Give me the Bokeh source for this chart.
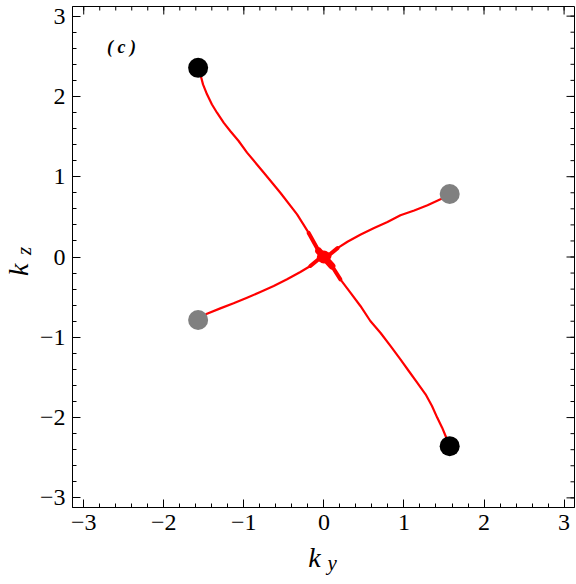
import math
from bokeh.plotting import figure
from bokeh.models import Range1d, FixedTicker, LinearAxis, Label
from bokeh.embed import file_html
from bokeh.resources import INLINE

# ---- data ----
# red curve, upper-left arm: black node -> origin
arm1_ky = [-1.571, -1.534, -1.51, -1.46, -1.398, -1.335, -1.25, -1.17, -1.065, -0.96,
           -0.75, -0.544, -0.335, -0.19, -0.065, 0.0]
arm1_kz = [2.356, 2.242, 2.15, 2.026, 1.90, 1.797, 1.67, 1.57, 1.445, 1.30,
           1.05, 0.80, 0.53, 0.30, 0.075, 0.0]
# red curve, lower-right arm: origin -> black node
arm2_ky = [0.0, 0.10, 0.206, 0.331, 0.456, 0.58, 0.706, 0.831, 0.956, 1.06, 1.165,
           1.27, 1.35, 1.415, 1.477, 1.52, 1.571]
arm2_kz = [0.0, -0.112, -0.278, -0.444, -0.61, -0.797, -0.943, -1.108, -1.275, -1.42,
           -1.566, -1.71, -1.856, -2.0, -2.126, -2.23, -2.356]
# red curve, lower-left arm: gray node -> origin
arm3_ky = [-1.571, -1.46, -1.294, -1.128, -0.96, -0.794, -0.627, -0.46, -0.294, -0.169,
           -0.044, 0.0]
arm3_kz = [-0.785, -0.706, -0.64, -0.577, -0.507, -0.436, -0.361, -0.278, -0.187, -0.112,
           -0.009, 0.0]
# red curve, upper-right arm: origin -> gray node
arm4_ky = [0.0, 0.05, 0.17, 0.294, 0.46, 0.627, 0.794, 0.956, 1.128, 1.294, 1.456, 1.571]
arm4_kz = [0.0, 0.012, 0.11, 0.19, 0.28, 0.36, 0.435, 0.52, 0.58, 0.645, 0.718, 0.785]

hub_ky = [0.0]
hub_kz = [0.0]

black_ky = [-1.571, 1.571]
black_kz = [2.356, -2.356]
gray_ky = [1.571, -1.571]
gray_kz = [0.785, -0.785]

major_ticks = [-3, -2, -1, 0, 1, 2, 3]
tick_labels = {-3: "\u22123", -2: "\u22122", -1: "\u22121", 0: "0", 1: "1", 2: "2", 3: "3"}
minor_ticks = [round(-3.0 + 0.2 * i, 1) for i in range(31)]

SERIF = "Liberation Serif"
X0, X1 = -3.14, 3.13
Y0, Y1 = -3.12, 3.12

p = figure(width=576, height=584, output_backend="svg", toolbar_location=None,
           x_range=Range1d(X0, X1), y_range=Range1d(Y0, Y1),
           x_axis_location=None, y_axis_location=None,
           min_border_left=72, min_border_right=2, min_border_top=6, min_border_bottom=77)
p.grid.visible = False
p.outline_line_color = "black"
p.outline_line_width = 1
p.background_fill_color = "white"
p.border_fill_color = "white"

ticker = FixedTicker(ticks=major_ticks, minor_ticks=minor_ticks)


def make_axis():
    ax = LinearAxis(ticker=ticker)
    ax.major_tick_in = 8
    ax.major_tick_out = 0
    ax.minor_tick_in = 4
    ax.minor_tick_out = 0
    ax.major_tick_line_color = "black"
    ax.minor_tick_line_color = "black"
    ax.axis_line_color = "black"
    ax.major_label_overrides = tick_labels
    ax.major_label_text_font = SERIF
    ax.major_label_text_font_size = "24px"
    ax.major_label_text_color = "black"
    ax.major_label_standoff = 7
    return ax


p.add_layout(make_axis(), "below")
p.add_layout(make_axis(), "left")

# inward ticks on the top and right frame edges
p.ray(x=major_ticks, y=[Y1] * len(major_ticks), length=8, length_units="screen",
      angle=-math.pi / 2, line_color="black", line_width=1)
p.ray(x=minor_ticks, y=[Y1] * len(minor_ticks), length=4, length_units="screen",
      angle=-math.pi / 2, line_color="black", line_width=1)
p.ray(x=[X1] * len(major_ticks), y=major_ticks, length=8, length_units="screen",
      angle=math.pi, line_color="black", line_width=1)
p.ray(x=[X1] * len(minor_ticks), y=minor_ticks, length=4, length_units="screen",
      angle=math.pi, line_color="black", line_width=1)

red = "#ff0000"
for xs, ys in [(arm1_ky, arm1_kz), (arm2_ky, arm2_kz), (arm3_ky, arm3_kz), (arm4_ky, arm4_kz)]:
    p.line(xs, ys, line_color=red, line_width=2.2, line_join="round", line_cap="round")

# thickened arms near the crossing point
for xs, ys in [(arm1_ky[-3:], arm1_kz[-3:]), (arm2_ky[:3], arm2_kz[:3]),
               (arm3_ky[-3:], arm3_kz[-3:]), (arm4_ky[:3], arm4_kz[:3])]:
    p.line(xs, ys, line_color=red, line_width=4, line_cap="round")
for xs, ys in [(arm1_ky[-2:], arm1_kz[-2:]), (arm2_ky[:2], arm2_kz[:2]),
               (arm3_ky[-2:], arm3_kz[-2:]), (arm4_ky[:2], arm4_kz[:2])]:
    p.line(xs, ys, line_color=red, line_width=7, line_cap="round")
p.scatter(hub_ky, hub_kz, size=13, fill_color=red, line_color=None)

p.scatter(black_ky, black_kz, size=20, fill_color="black", line_color=None)
p.scatter(gray_ky, gray_kz, size=20, fill_color="#808080", line_color=None)

# panel tag
p.add_layout(Label(x=-2.71, y=2.615, text="( c )", text_font=SERIF, text_font_size="18px",
                   text_font_style="bold italic", text_color="black",
                   text_align="left", text_baseline="alphabetic"))

# axis labels, in data units inside side panels so that they are not clipped to the frame
# (horizontal ones in the left panel, rotated ones in the bottom panel: both have room there)
lab_kw = dict(text_font=SERIF, text_font_style="italic", text_color="black",
              text_align="left", text_baseline="alphabetic")
p.add_layout(Label(x=-0.194, y=-3.748, text="k", text_font_size="28px", **lab_kw), "left")
p.add_layout(Label(x=0.044, y=-3.811, text="y", text_font_size="21px", **lab_kw), "left")
p.add_layout(Label(x=-3.81, y=-0.237, text="k", text_font_size="28px", angle=math.pi / 2,
                   **lab_kw), "below")
p.add_layout(Label(x=-3.75, y=0.025, text="z", text_font_size="21px", angle=math.pi / 2,
                   **lab_kw), "below")

open("out.html", "w").write(file_html(p, INLINE))
